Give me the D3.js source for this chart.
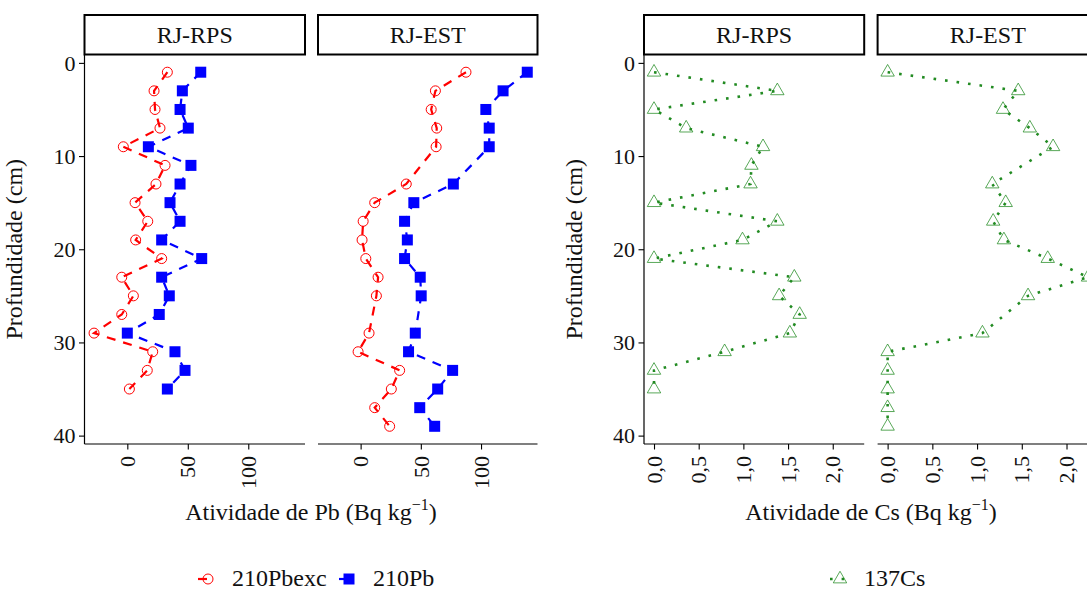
<!DOCTYPE html>
<meta charset="utf-8">
<script src="https://d3js.org/d3.v7.min.js"></script>
<div id="my_dataviz"></div>
<script>
// depths (cm) sampled in each core
const depthRPS = [1, 3, 5, 7, 9, 11, 13, 15, 17, 19, 21, 23, 25, 27, 29, 31, 33, 35];
const depthEST = [1, 3, 5, 7, 9, 13, 15, 17, 19, 21, 23, 25, 29, 31, 33, 35, 37, 39];

// 210Pb activity (Bq/kg)
const pbexcRPS = [33.1, 22.1, 22.9, 27.0, -3.3, 31.2, 23.7, 6.4, 16.9, 6.9, 28.4, -4.6, 5.0, -4.6, -27.5, 21.0, 16.5, 1.7];
const pbtotRPS = [60.7, 45.5, 43.6, 50.4, 17.4, 52.6, 43.6, 35.3, 43.6, 28.4, 61.5, 28.4, 34.7, 26.4, 0.0, 39.4, 47.7, 33.1];
const pbexcEST = [87.5, 62.1, 58.6, 63.2, 62.7, 37.9, 11.7, 2.1, 1.2, 4.3, 14.5, 13.1, 7.0, -2.1, 32.4, 25.5, 11.7, 24.1];
const pbtotEST = [138.4, 118.3, 104.0, 106.8, 106.8, 77.0, 44.2, 36.5, 38.8, 36.5, 49.5, 50.3, 45.4, 39.8, 76.4, 64.0, 49.1, 61.5];

// 137Cs activity (Bq/kg)
const csRPS = [0, 1.38, 0, 0.36, 1.22, 1.09, 1.08, 0, 1.38, 0.99, 0, 1.57, 1.40, 1.63, 1.52, 0.79, 0, 0];
const csEST = [0, 1.46, 1.29, 1.59, 1.85, 1.17, 1.32, 1.18, 1.30, 1.79, 2.24, 1.57, 1.06, 0, 0, 0, 0, 0];

const sites = ["RJ-RPS", "RJ-EST"];
const pbTicks = [0, 50, 100];
const csTicks = [0, 0.5, 1, 1.5, 2];
const depthTicks = [0, 10, 20, 30, 40];

const FONT = "'Liberation Serif', 'Times New Roman', 'DejaVu Serif', serif";

d3.select("body").style("margin", "0");
const svg = d3.select("#my_dataviz")
  .append("svg")
  .attr("width", 1087)
  .attr("height", 590)
  .style("display", "block")
  .style("background", "white");

const PANEL_TOP = 54.5, PANEL_BOT = 444, STRIP_TOP = 15;
const y = d3.scaleLinear().domain([-0.9, 40.9]).range([PANEL_TOP, PANEL_BOT]);

const RED = "#FF0000", BLUE = "#0000FF", GREEN = "#228B22";

function label(g, size) {
  return g.append("text")
    .attr("font-family", FONT).style("font-family", FONT)
    .attr("font-size", size).style("font-size", size + "px")
    .attr("fill", "#111");
}

function drawMarker(g, shape, color, cx, cy) {
  if (shape === "circle") {
    g.append("circle").attr("cx", cx).attr("cy", cy).attr("r", 5)
      .attr("fill", "none").attr("stroke", color).attr("stroke-width", 1);
  } else if (shape === "square") {
    g.append("rect").attr("x", cx - 5.5).attr("y", cy - 5.5)
      .attr("width", 11).attr("height", 11).attr("fill", color);
  } else {
    g.append("path").attr("d", d3.symbol(d3.symbolTriangle, 78)())
      .attr("transform", `translate(${cx},${cy})`)
      .attr("fill", "none").attr("stroke", GREEN).attr("stroke-width", 1)
      .attr("stroke-opacity", 0.75);
  }
}

function drawPanel(x0, x1, domain, ticks, fmt, strip, series, yAxis) {
  const g = svg.append("g");
  const x = d3.scaleLinear().domain(domain).range([x0, x1]);

  // strip
  g.append("rect").attr("x", x0).attr("y", STRIP_TOP)
    .attr("width", x1 - x0).attr("height", PANEL_TOP - STRIP_TOP)
    .attr("fill", "white").attr("stroke", "black").attr("stroke-width", 2);
  label(g, 24).attr("x", (x0 + x1) / 2).attr("y", 43)
    .attr("text-anchor", "middle").text(strip);

  // x axis
  const xAxis = g.append("g").attr("transform", `translate(0,${PANEL_BOT})`)
    .call(d3.axisBottom(x).tickValues(ticks).tickSize(5.5).tickFormat(""));
  xAxis.select(".domain").attr("stroke-width", 1.2).attr("d", `M${x0},0H${x1}`);
  xAxis.selectAll(".tick line").attr("stroke-width", 1.1);
  ticks.forEach(d => {
    label(g, 22).attr("text-anchor", "end").attr("dy", "0.35em")
      .attr("transform", `translate(${x(d)},${PANEL_BOT + 12}) rotate(-90)`)
      .text(fmt(d));
  });

  if (yAxis) {
    const ya = g.append("g").attr("transform", `translate(${x0},0)`)
      .call(d3.axisLeft(y).tickValues(depthTicks).tickSize(5.5).tickFormat(""));
    ya.select(".domain").attr("stroke-width", 1.2).attr("d", `M0,${PANEL_TOP}V${PANEL_BOT}`);
    ya.selectAll(".tick line").attr("stroke-width", 1.1);
    depthTicks.forEach(d => {
      label(g, 22).attr("x", x0 - 9).attr("y", y(d)).attr("dy", "0.35em")
        .attr("text-anchor", "end").text(d);
    });
  }

  series.forEach(s => {
    const pts = s.values.map((v, i) => [x(v), y(s.depth[i])]);
    g.append("path").datum(pts)
      .attr("d", d3.line())
      .attr("fill", "none").attr("stroke", s.color)
      .attr("stroke-width", s.width).attr("stroke-dasharray", s.dash);
    pts.forEach(p => drawMarker(g, s.shape, s.color, p[0], p[1]));
  });
}

function legendItem(x0, yy, s, text) {
  const g = svg.append("g");
  g.append("line").attr("x1", x0).attr("x2", x0 + 17).attr("y1", yy).attr("y2", yy)
    .attr("stroke", s.color).attr("stroke-width", s.width).attr("stroke-dasharray", s.dash);
  drawMarker(g, s.shape, s.color, x0 + 10, yy);
  label(g, 24).attr("x", x0 + 34).attr("y", yy + 7).text(text);
}

function axisTitles(cx, yx, element) {
  const t = label(svg, 24).attr("x", cx).attr("y", 520).attr("text-anchor", "middle");
  t.append("tspan").text(`Atividade de ${element} (Bq kg`);
  t.append("tspan").attr("dy", -10).attr("font-size", 16).style("font-size", "16px").text("\u22121");
  t.append("tspan").attr("dy", 10).text(")");
  label(svg, 24).attr("text-anchor", "middle")
    .attr("transform", `translate(${yx},${(PANEL_TOP + PANEL_BOT) / 2}) rotate(-90)`)
    .text("Profundidade (cm)");
}

const excStyle = { color: RED, width: 2.2, dash: "9,8", shape: "circle" };
const totStyle = { color: BLUE, width: 2.2, dash: "9,8", shape: "square" };
const csStyle = { color: GREEN, width: 2.6, dash: "2.6,9", shape: "triangle" };

const pbDomain = [-35.4, 146.9];
const pbFmt = d => String(d);
drawPanel(84.5, 305, pbDomain, pbTicks, pbFmt, sites[0], [
  { ...excStyle, values: pbexcRPS, depth: depthRPS },
  { ...totStyle, values: pbtotRPS, depth: depthRPS }
], true);
drawPanel(318, 537.5, pbDomain, pbTicks, pbFmt, sites[1], [
  { ...excStyle, values: pbexcEST, depth: depthEST },
  { ...totStyle, values: pbtotEST, depth: depthEST }
], false);

const csDomain = [-0.112, 2.352];
const csFmt = d => d3.format(".1f")(d).replace(".", ",");
drawPanel(644, 864.2, csDomain, csTicks, csFmt, sites[0], [
  { ...csStyle, values: csRPS, depth: depthRPS }
], true);
drawPanel(877.6, 1098, csDomain, csTicks, csFmt, sites[1], [
  { ...csStyle, values: csEST, depth: depthEST }
], false);

axisTitles(311, 22, "Pb");
axisTitles(871, 582, "Cs");

legendItem(198, 579, excStyle, "210Pbexc");
legendItem(339, 579, totStyle, "210Pb");
legendItem(830, 579, csStyle, "137Cs");
</script>
